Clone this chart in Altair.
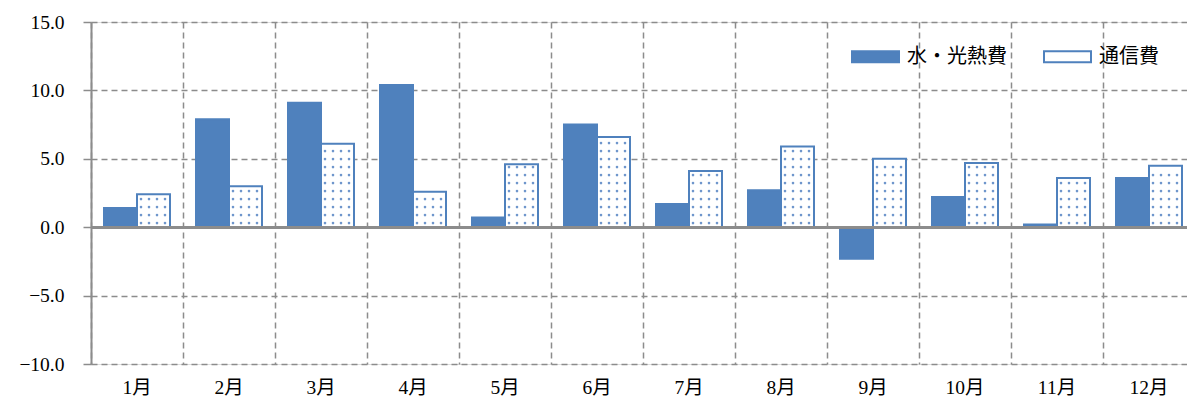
import altair as alt
import pandas as pd

months = ["1月", "2月", "3月", "4月", "5月", "6月", "7月", "8月", "9月", "10月", "11月", "12月"]
utility = [1.4, 7.9, 9.1, 10.4, 0.7, 7.5, 1.7, 2.7, -2.3, 2.2, 0.2, 3.6]
telecom = [2.4, 3.0, 6.1, 2.6, 4.6, 6.6, 4.1, 5.9, 5.0, 4.7, 3.6, 4.5]
series_names = ["水・光熱費", "通信費"]
y_ticks = [-10, -5, 0, 5, 10, 15]

rows = []
for m, u, t in zip(months, utility, telecom):
    rows.append({"month": m, "series": series_names[0], "value": u})
    rows.append({"month": m, "series": series_names[1], "value": t})
df = pd.DataFrame(rows)

# dot texture for the patterned series (4 columns inside each bar)
slots = ["s%d" % i for i in range(12)]
dot_cols = slots[6:10]
dot_rows = []
for m, t in zip(months, telecom):
    yv = 0.3
    while yv < t - 0.15:
        for c in dot_cols:
            dot_rows.append({"month": m, "col": c, "dy": yv})
        yv += 0.585
dots = pd.DataFrame(dot_rows)

BLUE = "#4F81BD"
GRID = "#8c8c8c"
NUM_FONT = "Liberation Serif, Noto Sans CJK JP"

x_scale = alt.Scale(domain=months, paddingInner=0, paddingOuter=0, range=[0, 1104])
xoff_scale = alt.Scale(domain=series_names, paddingInner=0, paddingOuter=0.394)
y_scale = alt.Scale(domain=[-10, 15], nice=False, zero=False)

x_axis = alt.Axis(title=None, bandPosition=0, grid=True, gridDash=[6, 4], gridColor=GRID,
                  gridWidth=1.5, ticks=False, domain=False, labelAngle=0, labelFont=NUM_FONT,
                  labelFontSize=19.5, labelPadding=14, labelColor="black")
y_axis = alt.Axis(title=None, values=y_ticks, format=".1f", labelFont=NUM_FONT, labelFontSize=19.5,
                  labelColor="black", tickSize=8, tickColor=GRID, tickWidth=1.5,
                  domainColor=GRID, domainWidth=2, grid=True, gridDash=[6, 4], gridColor=GRID,
                  gridWidth=1.5, labelPadding=19)

bars = alt.Chart(df).mark_bar(strokeWidth=2).encode(
    x=alt.X("month:N", sort=months, scale=x_scale, axis=x_axis),
    xOffset=alt.XOffset("series:N", sort=series_names, scale=xoff_scale),
    y=alt.Y("value:Q", scale=y_scale, axis=y_axis),
    fill=alt.Fill("series:N", sort=series_names,
                  scale=alt.Scale(domain=series_names, range=[BLUE, "#FFFFFF"]),
                  legend=alt.Legend(title=None, orient="none", legendX=760, legendY=10,
                                    direction="horizontal",
                                    symbolType="M-1,-0.234H1V0.234H-1Z", symbolSize=2209,
                                    symbolStrokeColor=BLUE, symbolStrokeWidth=2,
                                    labelFont="Noto Sans CJK JP", labelFontSize=20,
                                    labelColor="black", labelOffset=7, columnPadding=33,
                                    padding=0)),
    stroke=alt.Stroke("series:N", sort=series_names,
                      scale=alt.Scale(domain=series_names, range=[BLUE, BLUE]), legend=None),
)

zero = alt.Chart(df).mark_rule(color=GRID, strokeWidth=2).encode(y=alt.datum(0))

dot_layer = alt.Chart(dots).mark_circle(size=7, color="#6F96CC", opacity=1).encode(
    x=alt.X("month:N", sort=months, scale=x_scale, axis=x_axis),
    xOffset=alt.XOffset("col:N", sort=slots,
                        scale=alt.Scale(type="point", domain=slots, padding=0.25)),
    y=alt.Y("dy:Q", scale=y_scale, axis=y_axis),
)

chart = alt.layer(bars, dot_layer, zero).resolve_scale(xOffset="independent").properties(
    width=1096, height=342,
    autosize=alt.AutoSizeParams(type="none"),
    padding={"left": 83, "top": 14, "right": 0, "bottom": 41},
).configure_view(stroke=None).configure(background="white")

chart.save("out.html", embed_options={"renderer": "svg", "actions": False})
